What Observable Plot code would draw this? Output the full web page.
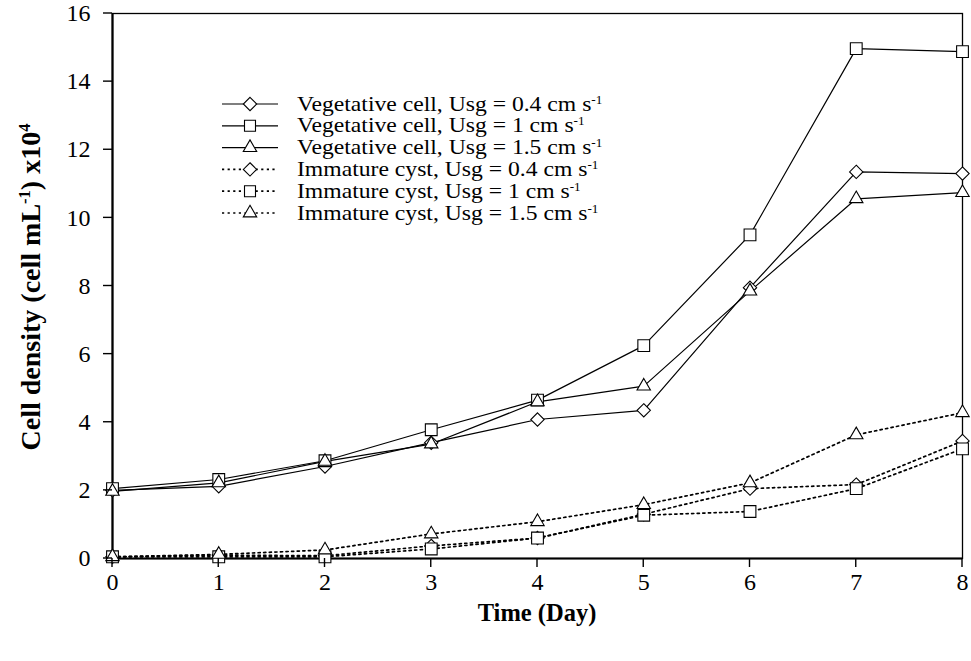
<!DOCTYPE html>
<html>
<head>
<meta charset="utf-8">
<script src="https://cdn.jsdelivr.net/npm/d3@7"></script>
<script src="https://cdn.jsdelivr.net/npm/@observablehq/plot@0.6"></script>
<style>
  html, body { margin: 0; padding: 0; background: white; }
  #wrap { position: relative; width: 971px; height: 661px; }
  #wrap svg { position: absolute; left: 0; top: 0; overflow: visible; }
</style>
</head>
<body>
<div id="wrap"></div>
<script>
const days = [0, 1, 2, 3, 4, 5, 6, 7, 8];
const yTicks = [0, 2, 4, 6, 8, 10, 12, 14, 16];

const veg04 = [2.0, 2.12, 2.7, 3.4, 4.08, 4.35, 7.95, 11.35, 11.3];
const veg10 = [2.05, 2.32, 2.87, 3.78, 4.65, 6.25, 9.5, 14.97, 14.88];
const veg15 = [1.97, 2.22, 2.85, 3.36, 4.6, 5.06, 7.85, 10.56, 10.74];
const cyst04 = [0.05, 0.1, 0.08, 0.37, 0.6, 1.3, 2.05, 2.17, 3.45];
const cyst10 = [0.05, 0.05, 0.05, 0.28, 0.6, 1.27, 1.38, 2.05, 3.22];
const cyst15 = [0.05, 0.12, 0.25, 0.72, 1.08, 1.58, 2.22, 3.63, 4.28];

const seriesNames = [
  "Vegetative cell, Usg = 0.4 cm s-1",
  "Vegetative cell, Usg = 1 cm s-1",
  "Vegetative cell, Usg = 1.5 cm s-1",
  "Immature cyst, Usg = 0.4 cm s-1",
  "Immature cyst, Usg = 1 cm s-1",
  "Immature cyst, Usg = 1.5 cm s-1"
];
const legendMain = [
  "Vegetative cell, Usg = 0.4 cm s",
  "Vegetative cell, Usg = 1 cm s",
  "Vegetative cell, Usg = 1.5 cm s",
  "Immature cyst, Usg = 0.4 cm s",
  "Immature cyst, Usg = 1 cm s",
  "Immature cyst, Usg = 1.5 cm s"
];
const seriesValues = [veg04, veg10, veg15, cyst04, cyst10, cyst15];
const seriesShape = ["diamond2", "square2", "triangle2", "diamond2", "square2", "triangle2"];
const seriesDotted = [false, false, false, true, true, true];

const table = seriesValues.flatMap((vals, i) =>
  vals.map((v, j) => ({ day: days[j], value: v, series: seriesNames[i], shape: seriesShape[i], dotted: seriesDotted[i] }))
);

const font = "'Liberation Serif', 'Times New Roman', serif";
const dash = "2.2,3.4";
const radius = {"diamond2": 6, "square2": 7.5, "triangle2": 6.4};

const W = 971, H = 661, mL = 112, mR = 9, mT = 13, mB = 103;
const tickLen = 9;

const chart = Plot.plot({
  width: W,
  height: H,
  marginLeft: mL,
  marginRight: mR,
  marginTop: mT,
  marginBottom: mB,
  style: { fontFamily: font, fontSize: "24px", background: "white", color: "black" },
  x: { domain: [0, 8], label: null },
  y: { domain: [0, 16], label: null },
  symbol: { domain: ["diamond2", "square2", "triangle2"], range: ["diamond2", "square2", "triangle2"] },
  marks: [
    Plot.axisX({ ticks: days, tickSize: 0, tickPadding: 14, fontSize: 24, tickFormat: d => String(d), label: null }),
    Plot.axisY({ ticks: yTicks, tickSize: 0, tickPadding: 22, fontSize: 24, tickFormat: d => String(d), label: null }),
    Plot.frame({ stroke: "black", strokeWidth: 1.3 }),
    Plot.line(table.filter(d => !d.dotted), { x: "day", y: "value", z: "series", stroke: "black", strokeWidth: 1.2 }),
    Plot.line(table.filter(d => d.dotted), { x: "day", y: "value", z: "series", stroke: "black", strokeWidth: 1.7, strokeDasharray: dash }),
    Plot.ruleX([0], { stroke: "black", strokeWidth: 2.2 }),
    Plot.ruleY([0], { stroke: "black", strokeWidth: 2.2 }),
    ...["diamond2", "square2", "triangle2"].map(s =>
      Plot.dot(table.filter(d => d.shape === s), { x: "day", y: "value", symbol: "shape", r: radius[s], fill: "white", stroke: "black", strokeWidth: 1.1 })
    )
  ]
});

const wrap = document.getElementById("wrap");
wrap.appendChild(chart);

// overlay: tick marks (from Plot's scales), legend and axis titles
const ov = d3.select(wrap).append("svg")
  .attr("width", W).attr("height", H)
  .style("font-family", font)
  .style("pointer-events", "none");

const sx = chart.scale("x"), sy = chart.scale("y");
const y0 = sy.apply(0), x0 = sx.apply(0);
ov.append("g").selectAll("line").data(days).join("line")
  .attr("x1", d => sx.apply(d)).attr("x2", d => sx.apply(d))
  .attr("y1", y0).attr("y2", y0 + tickLen)
  .attr("stroke", "black").attr("stroke-width", 1.4);
ov.append("g").selectAll("line").data(yTicks).join("line")
  .attr("y1", d => sy.apply(d)).attr("y2", d => sy.apply(d))
  .attr("x1", x0 - tickLen).attr("x2", x0)
  .attr("stroke", "black").attr("stroke-width", 1.4);

const rowY0 = 104, rowStep = 21.8;
const symPath = {
  "diamond2": d3.symbol(d3.symbolDiamond2, Math.PI * 6 * 6)(),
  "square2": d3.symbol(d3.symbolSquare2, Math.PI * 7 * 7)(),
  "triangle2": d3.symbol(d3.symbolTriangle2, Math.PI * 6.4 * 6.4)()
};
legendMain.forEach((label, i) => {
  const y = rowY0 + i * rowStep;
  const g = ov.append("g");
  g.append("line").attr("x1", 222).attr("x2", 278).attr("y1", y).attr("y2", y)
    .attr("stroke", "black").attr("stroke-width", seriesDotted[i] ? 1.7 : 1.2)
    .attr("stroke-dasharray", seriesDotted[i] ? dash : null);
  g.append("path").attr("d", symPath[seriesShape[i]]).attr("transform", `translate(250,${y})`)
    .attr("fill", "white").attr("stroke", "black").attr("stroke-width", 1.1);
  const t = g.append("text").attr("transform", `translate(297,${y + 6.5}) scale(1.1,1)`)
    .attr("font-size", 21.5).attr("fill", "black");
  t.append("tspan").text(label);
  t.append("tspan").attr("dy", -7).attr("font-size", 12).text("-1");
});

// x title
ov.append("text").attr("x", 537).attr("y", 621).attr("text-anchor", "middle")
  .attr("font-size", 24.5).attr("font-weight", "bold").text("Time (Day)");

// y title
const yt = ov.append("text").attr("transform", "translate(40,287) rotate(-90)")
  .attr("text-anchor", "middle").attr("font-size", 28).attr("font-weight", "bold");
yt.append("tspan").text("Cell density (cell mL");
yt.append("tspan").attr("dy", -10).attr("font-size", 16.5).text("-1");
yt.append("tspan").attr("dy", 10).text(") x10");
yt.append("tspan").attr("dy", -10).attr("font-size", 16.5).text("4");
</script>
</body>
</html>
